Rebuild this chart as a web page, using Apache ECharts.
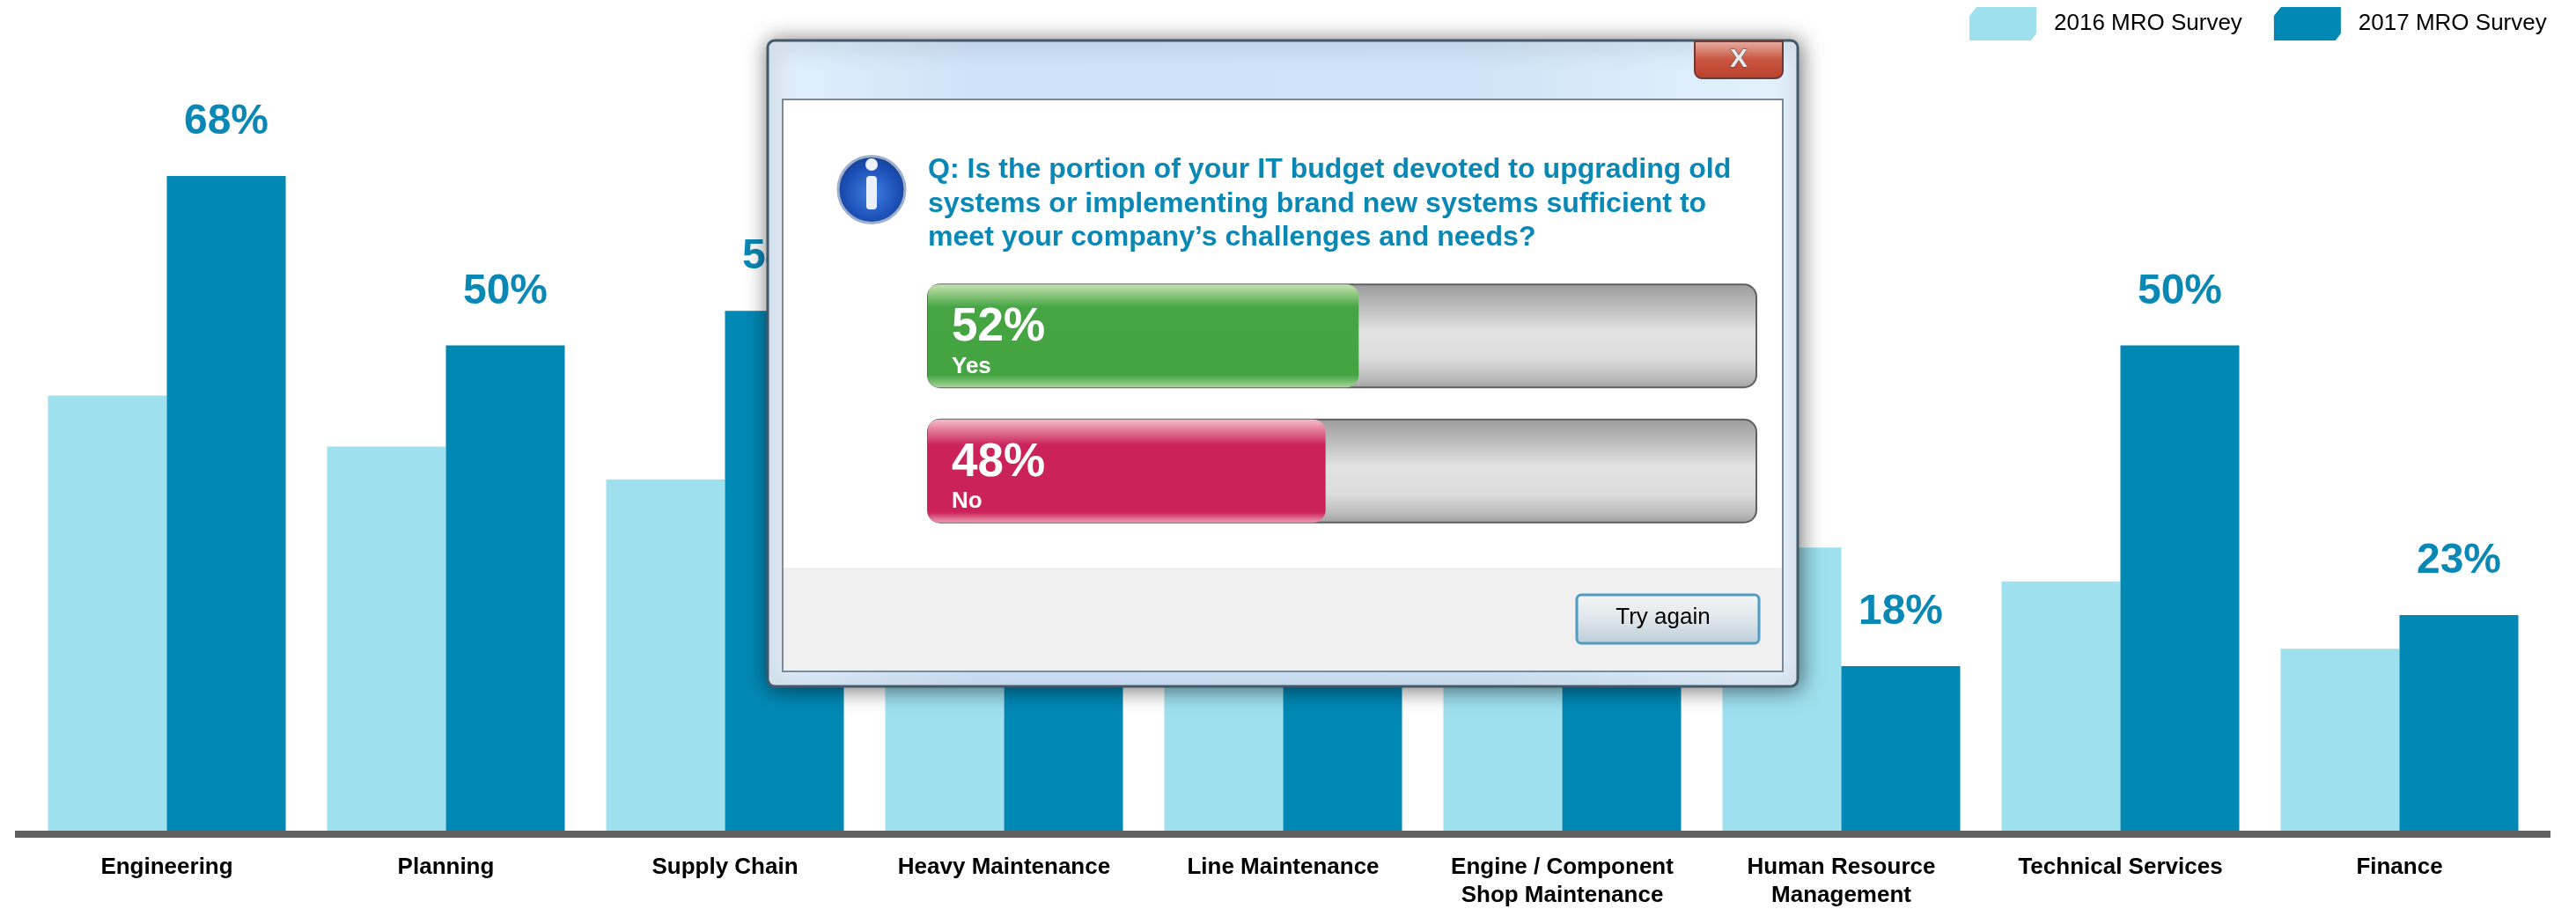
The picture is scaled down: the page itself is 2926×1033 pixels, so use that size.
<!DOCTYPE html>
<html>
<head>
<meta charset="utf-8">
<style>html,body{margin:0;padding:0;background:#fff}#c{width:2926px;height:1033px}</style>
<script src="https://cdn.jsdelivr.net/npm/echarts@6/dist/echarts.min.js"></script>
</head>
<body>
<div id="c"></div>
<script>
const categories = ['Engineering','Planning','Supply Chain','Heavy Maintenance','Line Maintenance','Engine / Component\nShop Maintenance','Human Resource\nManagement','Technical Services','Finance'];
const survey2016 = [45.2,39.9,36.5,33,30,27,29.4,25.9,18.9];
const survey2017 = [68,50.4,54,35,28,30,17.1,50.4,22.4];
const labels2017 = ['68%','50%','54%','35%','28%','30%','18%','50%','23%'];
const seriesNames = ['2016 MRO Survey','2017 MRO Survey'];
const pollCategories = ['Yes','No'];
const pollValues = [52,48];
const question = 'Q: Is the portion of your IT budget devoted to upgrading old\nsystems or implementing brand new systems sufficient to\nmeet your company\u2019s challenges and needs?';
const buttonText = 'Try again';

const FONT = '"Liberation Sans", Arial, sans-serif';
const LIGHT = '#9EE0EE', DARK = '#0088B5';
const lin = (stops) => ({type:'linear',x:0,y:0,x2:0,y2:1,colorStops:stops.map(s=>({offset:s[0],color:s[1]}))});
const pollGradients = [
  lin([[0,'#c6e2b0'],[0.22,'#45a543'],[0.88,'#43a441'],[1,'#a6d39a']]),
  lin([[0,'#f5bcc8'],[0.25,'#cb2259'],[0.9,'#cb2259'],[1,'#ec9db2']])
];
const trackGradient = lin([[0,'#9c9c9c'],[0.22,'#bcbcbc'],[0.45,'#e2e2e2'],[0.72,'#dcdcdc'],[0.92,'#b8b8b8'],[1,'#a0a0a0']]);
const chamfer = 'path://M8 0H76V30L70 38H0V10Z';

const chart = echarts.init(document.getElementById('c'), null, {renderer:'canvas'});
chart.setOption({
  animation:false,
  backgroundColor:'#fff',
  textStyle:{fontFamily:FONT},
  legend:{
    data:seriesNames, left:2237, top:8, padding:0, itemWidth:76, itemHeight:38, itemGap:36,
    icon:chamfer,
    textStyle:{fontFamily:FONT,fontSize:26,color:'#000',padding:[0,0,0,15]}
  },
  grid:[
    {left:31,width:2853,top:60,bottom:89,outerBoundsMode:'none'},
    {left:1054,width:941,top:305,height:307,outerBoundsMode:'none'},
    {left:17,width:2880,top:60,bottom:89,outerBoundsMode:'none'}
  ],
  xAxis:[
    {type:'category',gridIndex:0,data:categories,offset:4,
      axisLine:{show:false,onZero:false},axisTick:{show:false},
      axisLabel:{interval:0,margin:22,fontFamily:FONT,fontSize:26,fontWeight:'bold',color:'#000',lineHeight:32}},
    {type:'value',gridIndex:1,min:0,max:100,show:false},
    {type:'value',gridIndex:2,min:0,max:1,offset:4,splitLine:{show:false},
      axisLine:{show:true,onZero:false,lineStyle:{color:'#606060',width:8,cap:'butt'}},
      axisTick:{show:false},axisLabel:{show:false},z:5}
  ],
  yAxis:[
    {type:'value',gridIndex:0,min:0,max:80.8,show:false,splitLine:{show:false}},
    {type:'category',gridIndex:1,data:pollCategories,inverse:true,show:false},
    {type:'value',gridIndex:2,min:0,max:1,show:false,splitLine:{show:false}}
  ],
  series:[
    {name:seriesNames[0],type:'bar',xAxisIndex:0,yAxisIndex:0,data:survey2016,barWidth:135,barGap:0,itemStyle:{color:LIGHT}},
    {name:seriesNames[1],type:'bar',xAxisIndex:0,yAxisIndex:0,data:survey2017,barWidth:135,barGap:0,itemStyle:{color:DARK},
      label:{show:true,position:'top',distance:37,fontFamily:FONT,fontSize:48,fontWeight:'bold',color:'#0A88B5',
        formatter:p=>labels2017[p.dataIndex]}},
    {name:'Poll',type:'bar',xAxisIndex:1,yAxisIndex:1,barWidth:117,z:20,
      data:pollValues.map((v,i)=>({value:v,itemStyle:{color:pollGradients[i],borderRadius:[12,14,14,12]}})),
      showBackground:true,
      backgroundStyle:{color:trackGradient,borderColor:'#5f5f5f',borderWidth:2,borderRadius:14},
      label:{show:true,position:'insideLeft',distance:27,offset:[0,9],
        formatter:p=>'{a|'+p.value+'%}\n{b|'+p.name+'}',
        rich:{
          a:{fontFamily:FONT,fontSize:53,fontWeight:'bold',color:'#fff',lineHeight:52,align:'left'},
          b:{fontFamily:FONT,fontSize:26,fontWeight:'bold',color:'#fff',lineHeight:36,align:'left'}
        }}}
  ],
  graphic:{elements:[
    {type:'rect',z:10,shape:{x:872,y:46,width:1170,height:734,r:8},
      style:{fill:{type:'linear',x:0,y:0,x2:1,y2:0,colorStops:[{offset:0,color:'#e2f0fc'},{offset:0.2,color:'#cfe2f8'},{offset:0.7,color:'#d0e4f8'},{offset:1,color:'#e4f2fd'}]},
        stroke:'#43596a',lineWidth:3,shadowBlur:24,shadowColor:'rgba(0,0,0,0.55)',shadowOffsetX:2,shadowOffsetY:2}},
    {type:'rect',z:11,shape:{x:889,y:113,width:1136,height:650},style:{fill:'#fff',stroke:'#7b8a96',lineWidth:2}},
    {type:'rect',z:11,shape:{x:890,y:645,width:1134,height:117},style:{fill:'#f0f0f0'}},
    {type:'rect',z:12,shape:{x:1925,y:47,width:100,height:42,r:[0,0,8,8]},
      style:{fill:lin([[0,'#e8b3a8'],[0.5,'#c9553f'],[1,'#b8402c']]),stroke:'#6b3a34',lineWidth:2}},
    {type:'text',z:13,style:{x:1975,y:68,text:'X',fontFamily:FONT,fontSize:30,fontWeight:'bold',fill:'#e8e8e8',align:'center',verticalAlign:'middle',stroke:'#55413f',lineWidth:1}},
    {type:'circle',z:12,shape:{cx:990,cy:215.5,r:38},
      style:{fill:{type:'radial',x:0.5,y:0.55,r:0.55,colorStops:[{offset:0,color:'#3f7fe0'},{offset:0.7,color:'#1c4fb5'},{offset:1,color:'#163f95'}]},stroke:'#9fb0c8',lineWidth:3}},
    {type:'circle',z:13,shape:{cx:990,cy:187,r:7},style:{fill:'#eaf1fb'}},
    {type:'rect',z:13,shape:{x:984,y:200,width:12,height:38,r:4},style:{fill:'#eaf1fb'}},
    {type:'text',z:12,style:{x:1054,y:174,text:question,fontFamily:FONT,fontSize:32.1,fontWeight:'bold',fill:'#0A88B5',lineHeight:38.5}},
    {type:'rect',z:12,shape:{x:1791,y:676,width:207,height:55,r:5},
      style:{fill:lin([[0,'#f4f6f8'],[0.5,'#dfe6eb'],[1,'#bacdd9']]),stroke:'#4f9cc0',lineWidth:3}},
    {type:'text',z:13,style:{x:1889,y:702,text:buttonText,fontFamily:FONT,fontSize:26,fill:'#000',align:'center',verticalAlign:'middle'}}
  ]}
});
</script>
</body>
</html>
